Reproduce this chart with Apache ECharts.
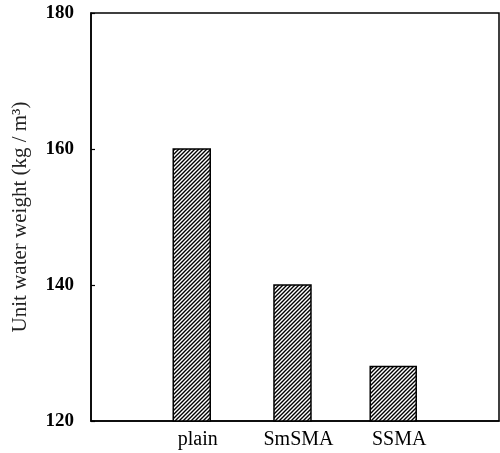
<!DOCTYPE html>
<html>
<head>
<meta charset="utf-8">
<script src="https://cdn.jsdelivr.net/npm/echarts@6/dist/echarts.min.js"></script>
<style>html,body{margin:0;padding:0;background:#fff;}#c{width:500px;height:453px;}</style>
</head>
<body>
<div id="c"></div>
<script>
const categories = ['plain', 'SmSMA', 'SSMA'];
const values = [160, 140, 128];
const yTicks = [120, 140, 160, 180];
const barWidths = [37, 37, 46];

function makeHatch() {
  const s = 4;
  const c = document.createElement('canvas');
  c.width = s; c.height = s;
  const ctx = c.getContext('2d');
  ctx.fillStyle = '#fff';
  ctx.fillRect(0, 0, s, s);
  ctx.strokeStyle = '#000';
  ctx.lineWidth = 1.4;
  ctx.beginPath();
  ctx.moveTo(-1, s + 1); ctx.lineTo(s + 1, -1);
  ctx.moveTo(-1, 1); ctx.lineTo(1, -1);
  ctx.moveTo(s - 1, s + 1); ctx.lineTo(s + 1, s - 1);
  ctx.stroke();
  return c;
}
const hatch = makeHatch();

const chart = echarts.init(document.getElementById('c'), null, {renderer: 'canvas'});
const font = '"Liberation Serif", "Times New Roman", serif';
chart.setOption({
  animation: false,
  backgroundColor: '#fff',
  grid: {left: 91, right: 1, top: 13, bottom: 32, show: true, borderColor: '#000', borderWidth: 1.5, backgroundColor: 'transparent'},
  xAxis: {
    type: 'value', min: 0, max: 4.05, interval: 1,
    axisLine: {show: true, lineStyle: {color: '#000', width: 1.5}},
    axisTick: {show: false},
    splitLine: {show: false},
    axisLabel: {
      color: '#000', fontFamily: font, fontSize: 20, margin: 9,
      padding: [0, 0, 0, 12],
      showMaxLabel: false, showMinLabel: false,
      formatter: v => categories[v - 1] || ''
    }
  },
  yAxis: {
    type: 'value', min: yTicks[0], max: yTicks[yTicks.length - 1], interval: 20,
    name: 'Unit water weight (kg / m³)',
    nameLocation: 'middle', nameGap: 60,
    nameTextStyle: {color: '#222', fontFamily: font, fontSize: 21},
    axisLine: {show: true, lineStyle: {color: '#000', width: 1.5}},
    axisTick: {show: true, inside: true, length: 4, lineStyle: {color: '#000', width: 1.2}},
    splitLine: {show: false},
    axisLabel: {color: '#000', fontFamily: font, fontSize: 19, fontWeight: 'bold', margin: 17}
  },
  series: [{
    type: 'custom',
    data: values.map((v, i) => [i + 1, v]),
    renderItem: function (params, api) {
      const x = api.value(0), y = api.value(1);
      const top = api.coord([x, y]);
      const base = api.coord([x, yTicks[0]]);
      const w = barWidths[params.dataIndex];
      return {
        type: 'rect',
        shape: {x: top[0] - w / 2, y: top[1], width: w, height: base[1] - top[1]},
        style: {fill: {image: hatch, repeat: 'repeat'}, stroke: '#000', lineWidth: 1.5}
      };
    }
  }]
});
</script>
</body>
</html>
